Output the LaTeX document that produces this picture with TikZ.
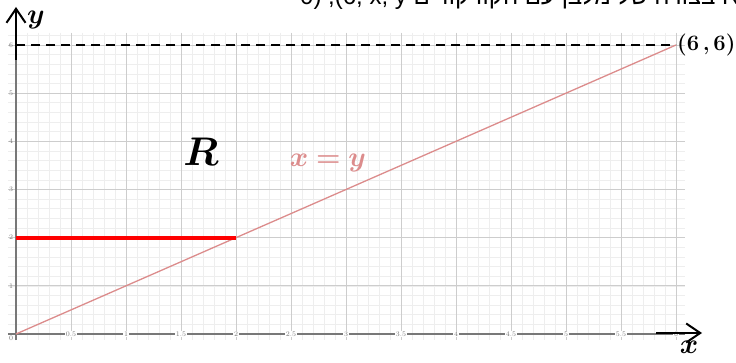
\RequirePackage{fix-cm}
\documentclass[tikz,border=0pt]{standalone}
\usepackage{fontspec}
\usepackage{amsmath,bm}
\newfontfamily\hebfont[Script=Hebrew]{Liberation Sans}
\TeXXeTstate=1
\usetikzlibrary{arrows.meta}
\definecolor{minorg}{RGB}{238,238,238}
\definecolor{majorg}{RGB}{205,205,205}
\definecolor{axisg}{RGB}{120,120,120}
\definecolor{diagc}{RGB}{220,140,140}
\tikzset{
  minorgrid/.style={draw=minorg, line width=0.6pt},
  majorgrid/.style={draw=majorg, line width=0.8pt},
  axisline/.style={draw=axisg, line width=1.2pt},
  ticklbl/.style={text=axisg, font=\fontsize{7}{7}\selectfont, inner sep=0.6pt},
  diagline/.style={draw=diagc, line width=1.3pt},
  bigarrow/.style={draw=black, line width=2.4pt, -{Straight Barb[length=14pt,width=19pt,line width=2pt]}},
}
\begin{document}
\begin{tikzpicture}[x=1pt,y=-1pt]
\useasboundingbox (0,0) rectangle (736,363);
\clip (0,0) rectangle (736,363);
\fill[white] (0,0) rectangle (736,363);
% grid
\begin{scope}
\clip (8,33) rectangle (685,340);
\foreach \i in {-1,...,62} \draw[minorgrid] ({16+11*\i},33) -- ({16+11*\i},340);
\foreach \j in {-1,...,31} \draw[minorgrid] (8,{334-9.634*\j}) -- (685,{334-9.634*\j});
\foreach \i in {0,...,12} \draw[majorgrid] ({16+55*\i},33) -- ({16+55*\i},340);
\foreach \j in {0,...,6} \draw[majorgrid] (8,{334-48.17*\j}) -- (685,{334-48.17*\j});
\end{scope}
% axes
\coordinate (O) at (16,334);
\coordinate (yb) at (16,340);
\coordinate (yt) at (16,33);
\coordinate (xl) at (8,334);
\coordinate (xr) at (685,334);
\draw[axisline] (yb) -- (yt);
\draw[axisline] (xl) -- (xr);
% tick labels
\foreach \i/\l in {1/0.5,2/1,3/1.5,4/2,5/2.5,6/3,7/3.5,8/4,9/4.5,10/5,11/5.5,12/6}
  \node[ticklbl, fill=white] (xt\i) at ({16+55*\i},334) {\l};
\foreach \j in {1,...,6}
  \node[ticklbl, anchor=east] (yt\j) at (14,{334-48.17*\j}) {\j};
\node[ticklbl, anchor=east] (yt0) at (14,338) {0};
% line x=y
\coordinate (P) at (676,45);
\draw[diagline] (O) -- (P);
% red segment
\coordinate (A) at (16,238);
\coordinate (B) at (236,238);
\draw[red, line width=4.5pt] (A) -- (B);
% dashed line y=6
\coordinate (D) at (16,45);
\draw[black, line width=1.8pt, dash pattern=on 9pt off 6pt] (D) -- (P);
% arrows
\coordinate (ya0) at (16,60);
\coordinate (ya1) at (16,7);
\draw[bigarrow] (ya0) -- (ya1);
\coordinate (xa0) at (656,333);
\coordinate (xa1) at (702,333);
\draw[bigarrow] (xa0) -- (xa1);
% labels
\node[anchor=west, inner sep=1pt, font=\bfseries\fontsize{22}{24}\selectfont] (pl) at (P) {(6\,,\,6)};
\node[font=\fontsize{28}{30}\selectfont] (ylab) at (36,20) {$\bm{y}$};
\node[font=\fontsize{28}{30}\selectfont] (xlab) at (689,347) {$\bm{x}$};
\node[font=\fontsize{40}{42}\selectfont] (Rlab) at (201,152) {$\bm{R}$};
\node[text=diagc, font=\fontsize{28}{30}\selectfont] (eqlab) at (328,163) {$\bm{x=y}$};
% cut-off heading
\node[anchor=base west, inner sep=0pt, font=\hebfont\fontsize{24}{26}\selectfont] (title) at (300,5)
  {\beginR התחום R בצורה של מלבן עם הקודקודים \beginL(0 ,6), x, y\endL\endR};
\end{tikzpicture}
\end{document}
